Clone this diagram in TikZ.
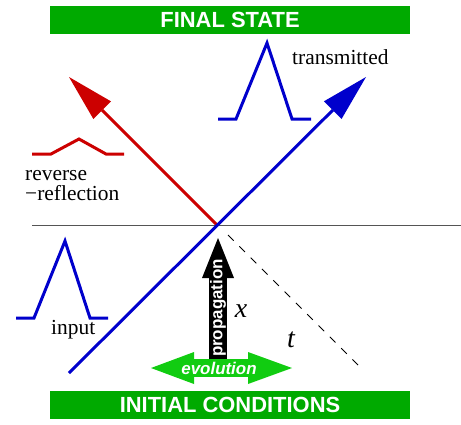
\documentclass[tikz,border=0pt]{standalone}
\usepackage{fontspec}
\setmainfont{Liberation Serif}
\setsansfont{Liberation Sans}
\usepackage{tikz}
\usetikzlibrary{arrows.meta,positioning,calc}
\definecolor{WBGreen}{HTML}{00AA00}
\definecolor{WBLime}{HTML}{11CC11}
\definecolor{WBBlue}{HTML}{0000CC}
\definecolor{WBRed}{HTML}{CC0000}
\definecolor{WBGray}{HTML}{555555}

\begin{document}
\begin{tikzpicture}[
    x=1bp,y=-1bp,
    bar/.style={fill=WBGreen, text=white, minimum width=360bp, minimum height=28bp, inner sep=0pt, font=\fontsize{22}{24}\selectfont\sffamily\bfseries},
    txt/.style={inner sep=0pt, font=\fontsize{21.5}{20}\selectfont},
    var/.style={inner sep=0pt, font=\fontsize{28}{30}\selectfont\itshape},
    ray/.style={line width=3bp, -{Triangle[length=47bp,width=25bp,line width=0bp]}},
    pulse/.style={line width=3bp, line join=miter},
    fat/.style={line width=18bp},
    fattxt/.style={inner sep=0pt, text=white, font=\fontsize{17}{18}\selectfont\sffamily\bfseries}
  ]
    \useasboundingbox (0,0) rectangle (461,424);

    \node[bar] (final) at (230,20) {FINAL STATE};
    \node[bar] (initial) at (230,405) {INITIAL CONDITIONS};

    \coordinate (o) at (217,225);
    \coordinate (inc) at (69,373);
    \coordinate (trans) at (366,77);
    \coordinate (refl) at (69,77);
    \coordinate (ifL) at (32,225);
    \coordinate (ifR) at (461,225);
    \coordinate (dashA) at (228,235);
    \coordinate (dashB) at (360,367);

    \draw[WBGray, line width=1bp] (ifL) -- (ifR);
    \draw[line width=0.9bp, dash pattern=on 8bp off 8bp] (dashA) -- (dashB);
    \draw[ray, WBRed] (o) -- (refl);
    \draw[ray, WBBlue] (inc) -- (trans);

    \draw[pulse, WBBlue] (16,318) -- (34,318) -- (65,241) -- (90,318) -- (108,318);
    \draw[pulse, WBBlue] (218,119) -- (236,119) -- (267,43) -- (292,119) -- (311,119);
    \draw[pulse, WBRed] (32,154) -- (51,154) -- (79,139) -- (106,154) -- (124,154);

    \node[txt, anchor=base west] (translbl) at (292,64) {transmitted};
    \node[txt, anchor=base west, align=left] (refllbl) at (25,200) {reverse\\−reflection};
    \node[txt, anchor=base west] (inlbl) at (51,334) {input};
    \node[var] (xlbl) at (241,311) {x};
    \node[var] (tlbl) at (291,340) {t};

    \coordinate (propBot) at (218,362);
    \coordinate (propTop) at (218,238);
    \draw[fat, -{Triangle[length=40bp,width=32bp,line width=0bp]}] (propBot) -- (propTop);
    \node[fattxt, rotate=90] (prop) at (218,308) {propagation};

    \coordinate (evoL) at (151,368);
    \coordinate (evoR) at (292,368);
    \draw[fat, WBLime, {Triangle[length=43bp,width=32bp,line width=0bp]}-{Triangle[length=44bp,width=32bp,line width=0bp]}] (evoL) -- (evoR);
    \node[fattxt, anchor=base, font=\fontsize{17}{18}\selectfont\sffamily\bfseries\itshape] (evo) at (219,374) {evolution};
  \end{tikzpicture}
\end{document}
